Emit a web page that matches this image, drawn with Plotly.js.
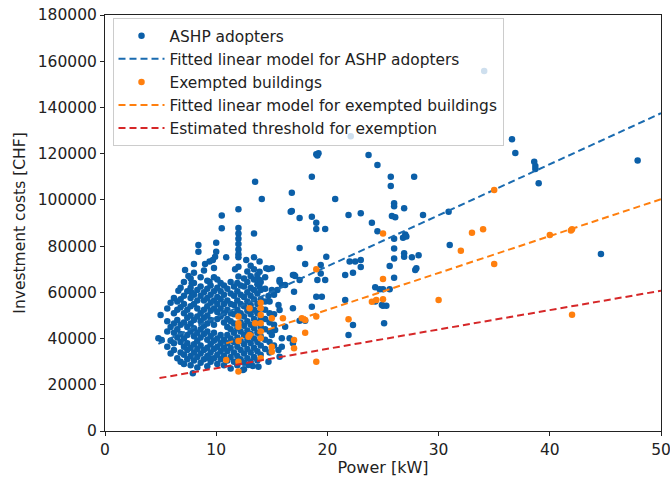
<!DOCTYPE html>
<html><head><meta charset="utf-8">
<script src="https://cdn.plot.ly/plotly-3.0.1.min.js"></script>
<style>html,body{margin:0;padding:0;background:#fff}#chart{width:670px;height:481px}</style>
</head><body><div id="chart"></div>
<script>
// ASHP adopters: [power kW, investment CHF]
const ashpPoints = [
 // right-hand, sparse points
 [36.6,126200],[36.9,120300],[38.6,116500],[38.7,114700],[38.7,113400],[39.0,107200],[47.9,117000],[44.6,76600],
 [31.0,80500],[30.9,94900],[28.6,93500],[27.8,110000],[25.7,110000],[25.7,106000],
 [26.0,98500],[26.0,97200],[25.8,93000],[26.1,92500],[26.9,96400],
 [27.0,85000],[26.8,83600],[27.1,84200],[26.0,83200],[26.0,79000],
 [26.9,76900],[26.9,75400],[27.6,75200],[28.2,76000],[26.0,74600],
 [27.9,69700],[28.0,70400],[25.6,71400],[26.0,66300],[25.0,61300],[25.6,61300],
 [25.0,54200],[25.3,54200],[25.1,46600],
 [34.1,155800],[22.1,127500],
 // middle
 [19.0,119700],[19.2,120200],[19.1,119200],[23.7,119400],[24.5,115100],[18.6,110000],[16.8,103100],[20.7,100400],
 [16.8,95200],[17.5,92200],[18.6,92700],[19.0,90100],[19.0,87400],[19.8,87400],[21.9,93500],[23.0,94200],
 [24.0,90100],[24.5,86400],[17.5,79200],[18.0,72300],[19.4,71800],[19.9,75400],[22.0,73300],[22.5,73300],
 [23.0,74000],[23.0,71000],[22.3,68500],[21.6,67500],[17.0,67500],[17.5,65300],[19.1,65300],[19.8,65300],
 [19.4,68200],[17.0,60300],[24.3,62200],[24.7,61300],[19.0,58100],[19.5,58100],[21.6,56700],[24.3,56000],
 [24.9,54500],[18.6,53800],[17.5,47700],[18.0,47700],[21.9,41500],[22.3,45900],
 // left, above the dense cloud
 [13.5,107900],[14.1,100400],[10.5,93200],[10.5,87700],[12.0,95900],[13.4,85500],[8.4,80500],[8.4,77600],
 [10.0,81500],[10.0,77600],[9.9,75400],[10.9,75200],[7.2,69700],[7.5,67100],[8.0,72300],[9.0,72300],
 [9.4,73300],[9.7,74000],[11.7,70000],[12.7,74000],[13.4,75200],[13.9,73300],[14.5,70400],[15.0,70400],
 [13.9,68900],[13.9,65300],[13.9,62400],[15.7,64600],[15.9,63200],[17.1,67100],[16.7,94900],
 [12.0,87800],[12.0,85500],[12.0,83200],[12.0,80900],[12.0,78500],[12.0,76500],[12.0,75200],[12.0,71100],[12.0,66800],
 [7.8,63900],[9.4,64600],[6.6,60700],[7.8,59800],[5.0,50200],[4.8,40100],[5.1,39400],[7.9,25000],[9.4,31500],
 [12.5,26700],[13.3,28100],[15.9,40100],[15.9,36500],[15.0,61000],[15.6,35000],[15.7,32100],[16.6,40100],
 [16.9,38000],[13.8,27800],[12.4,26400],[12.9,28600],[14.7,30000],[15.3,43700],[15.0,41500],[16.2,45100],
 [16.9,53100],[15.6,54500],[15.7,52400],[14.7,58400],[14.4,56000],[15.5,61000],[16.2,63200],[14.7,70100],
 [15.7,65300],[16.9,67500],
 // dense cloud 5.5 - 15 kW
 [5.6,36500],[5.6,43000],[5.6,47500],[5.6,53000],
 [5.9,33500],[5.9,39000],[5.9,45000],[5.9,55500],
 [6.2,35000],[6.2,38000],[6.2,42500],[6.2,46500],[6.2,51000],[6.2,57500],
 [6.5,31500],[6.5,40500],[6.5,44000],[6.5,48000],[6.5,52500],[6.5,56000],
 [6.8,30000],[6.8,34000],[6.8,38500],[6.8,42000],[6.8,46000],[6.8,53500],[6.8,57000],[6.8,62000],
 [7.1,29000],[7.1,33000],[7.1,36500],[7.1,40000],[7.1,47000],[7.1,51000],[7.1,55000],[7.1,58500],[7.1,64500],
 [7.4,31000],[7.4,35000],[7.4,38000],[7.4,41500],[7.4,45000],[7.4,49000],[7.4,52500],[7.4,60500],
 [7.7,28500],[7.7,32500],[7.7,36000],[7.7,43000],[7.7,46500],[7.7,50000],[7.7,54000],[7.7,57500],[7.7,62000],[7.7,66000],
 [8.0,30500],[8.0,34000],[8.0,37500],[8.0,41000],[8.0,44500],[8.0,48000],[8.0,55000],[8.0,59000],[8.0,64000],[8.0,68500],
 [8.3,27500],[8.3,32000],[8.3,35500],[8.3,39000],[8.3,42500],[8.3,49500],[8.3,53000],[8.3,56500],[8.3,61000],
 [8.6,29500],[8.6,33500],[8.6,37000],[8.6,40500],[8.6,44000],[8.6,47500],[8.6,51000],[8.6,58500],[8.6,62500],[8.6,66500],
 [8.9,31000],[8.9,35000],[8.9,42000],[8.9,45500],[8.9,49000],[8.9,52500],[8.9,56500],[8.9,60000],[8.9,69500],
 [9.2,28000],[9.2,32500],[9.2,36000],[9.2,39500],[9.2,43000],[9.2,46500],[9.2,50000],[9.2,54000],[9.2,57500],[9.2,61500],[9.2,65000],
 [9.5,30000],[9.5,34000],[9.5,37500],[9.5,41000],[9.5,48000],[9.5,52000],[9.5,55500],[9.5,59000],[9.5,63000],
 [9.8,31500],[9.8,35500],[9.8,39000],[9.8,42500],[9.8,46000],[9.8,53000],[9.8,56500],[9.8,60500],[9.8,66500],[9.8,70500],
 [10.1,29000],[10.1,33000],[10.1,36500],[10.1,40000],[10.1,48500],[10.1,51500],[10.1,55000],[10.1,58000],[10.1,62000],[10.1,65500],
 [10.4,31000],[10.4,34500],[10.4,38000],[10.4,41500],[10.4,49500],[10.4,53000],[10.4,57000],[10.4,60500],[10.4,64000],
 [10.7,28500],[10.7,32500],[10.7,36000],[10.7,39500],[10.7,47000],[10.7,51000],[10.7,55000],[10.7,59000],[10.7,63000],
 [11.0,30500],[11.0,34500],[11.0,38000],[11.0,41500],[11.0,45000],[11.0,48500],[11.0,52500],[11.0,56500],[11.0,61500],
 [11.3,27000],[11.3,32000],[11.3,36000],[11.3,40000],[11.3,44000],[11.3,47500],[11.3,51000],[11.3,55000],[11.3,59500],[11.3,64500],
 [11.6,30000],[11.6,34000],[11.6,38500],[11.6,42500],[11.6,46500],[11.6,50500],[11.6,54500],[11.6,58500],[11.6,62500],
 [11.9,28500],[11.9,32500],[11.9,36500],[11.9,40500],[11.9,44500],[11.9,52500],[11.9,56500],[11.9,60500],[11.9,64000],
 [12.2,31000],[12.2,35000],[12.2,39000],[12.2,43000],[12.2,47000],[12.2,51000],[12.2,55000],[12.2,59000],[12.2,63000],
 [12.5,29500],[12.5,33500],[12.5,37500],[12.5,41500],[12.5,45500],[12.5,49500],[12.5,54000],[12.5,58000],[12.5,62500],[12.5,66000],
 [12.8,31500],[12.8,35500],[12.8,39500],[12.8,43500],[12.8,47500],[12.8,52000],[12.8,56000],[12.8,60000],[12.8,64500],[12.8,69000],
 [13.1,30000],[13.1,34000],[13.1,38000],[13.1,42000],[13.1,46000],[13.1,50500],[13.1,54500],[13.1,58500],[13.1,62000],[13.1,67000],[13.1,71500],
 [13.4,32000],[13.4,36000],[13.4,40000],[13.4,44500],[13.4,48500],[13.4,52500],[13.4,57000],[13.4,61000],[13.4,65500],[13.4,70000],
 [13.7,30500],[13.7,34500],[13.7,38500],[13.7,42500],[13.7,47000],[13.7,51000],[13.7,55000],[13.7,59500],[13.7,63500],[13.7,67500],
 [14.0,33000],[14.0,37000],[14.0,41000],[14.0,45000],[14.0,49000],[14.0,53000],[14.0,57000],[14.0,61000],[14.0,64500],
 [14.4,35500],[14.4,39500],[14.4,44000],[14.4,48500],[14.4,52500],[14.4,61500],[14.4,66500],
 [14.8,34000],[14.8,38500],[14.8,43000],[14.8,47000],[14.8,51000],[14.8,56000],
 [15.2,37000],[15.2,46000],[15.2,50500],[15.2,59000]
];
const ashpX = ashpPoints.map(p => p[0]);
const ashpY = ashpPoints.map(p => p[1]);

// Exempted buildings
const exemptX = [13.0,12.0,12.0,12.0,14.0,14.0,14.0,14.0,14.0,14.0,13.5,12.9,13.0,12.0,15.0,16.0,15.0,15.0,17.0,17.0,18.0,19.0,19.0,21.9,10.9,12.0,12.0,14.0,24.0,24.4,25.0,25.0,19.0,25.0,17.7,18.0,35.0,33.0,34.0,32.0,35.0,40.0,42.0,41.9,30.0,42.0];
const exemptY = [53100,49500,46600,45100,55500,53100,50200,46600,43000,40100,46600,40800,41500,38900,48800,48800,36500,34300,39400,35800,42500,49500,30000,48300,30700,30000,25700,31500,55900,56700,57000,85500,70000,65800,48800,48000,104300,85800,87300,78000,72300,84800,87300,86800,56700,50300];

// Fitted lines (endpoints)
const ashpFitX = [4.8, 50];
const ashpFitY = [37700, 137500];
const exemptFitX = [10.9, 50];
const exemptFitY = [37900, 100300];
const thresholdX = [4.9, 50];
const thresholdY = [22900, 60700];

const BLUE = '#0b5fa8', ORANGE = '#ff7f0e', RED = '#d62728';
const traces = [
  {x: ashpX, y: ashpY, type: 'scatter', mode: 'markers', name: 'ASHP adopters',
   marker: {color: BLUE, size: 6.5}},
  {x: ashpFitX, y: ashpFitY, type: 'scatter', mode: 'lines', name: 'Fitted linear model for ASHP adopters',
   line: {color: '#1a6bb0', width: 2, dash: '7px,4px'}},
  {x: exemptX, y: exemptY, type: 'scatter', mode: 'markers', name: 'Exempted buildings',
   marker: {color: ORANGE, size: 6.5}},
  {x: exemptFitX, y: exemptFitY, type: 'scatter', mode: 'lines', name: 'Fitted linear model for exempted buildings',
   line: {color: ORANGE, width: 2, dash: '7px,4px'}},
  {x: thresholdX, y: thresholdY, type: 'scatter', mode: 'lines', name: 'Estimated threshold for exemption',
   line: {color: RED, width: 2, dash: '7px,4px'}}
];
const axisCommon = {showgrid: false, zeroline: false, showline: true, mirror: true, linecolor: '#222', linewidth: 1,
  ticks: 'outside', ticklen: 4, tickcolor: '#222', tickfont: {size: 15.5, color: '#222'}, ticklabeloverflow: 'allow'};
const layout = {
  width: 670, height: 481,
  margin: {l: 105, r: 9, t: 15, b: 50},
  font: {family: 'DejaVu Sans', color: '#222'},
  paper_bgcolor: '#fff', plot_bgcolor: '#fff',
  xaxis: Object.assign({}, axisCommon, {range: [0, 50], dtick: 10, title: {text: 'Power [kW]', font: {size: 16}, standoff: 4}}),
  yaxis: Object.assign({}, axisCommon, {range: [0, 180000], dtick: 20000, tickformat: 'd', title: {text: 'Investment costs [CHF]', font: {size: 15.5}, standoff: 8}}),
  legend: {x: 0.0135, y: 0.992, xanchor: 'left', yanchor: 'top', bgcolor: 'rgba(255,255,255,0.8)',
    bordercolor: '#cccccc', borderwidth: 1, font: {size: 15.4, color: '#222'}, itemwidth: 46},
  showlegend: true
};
Plotly.newPlot('chart', traces, layout, {staticPlot: true, displayModeBar: false});
</script></body></html>
